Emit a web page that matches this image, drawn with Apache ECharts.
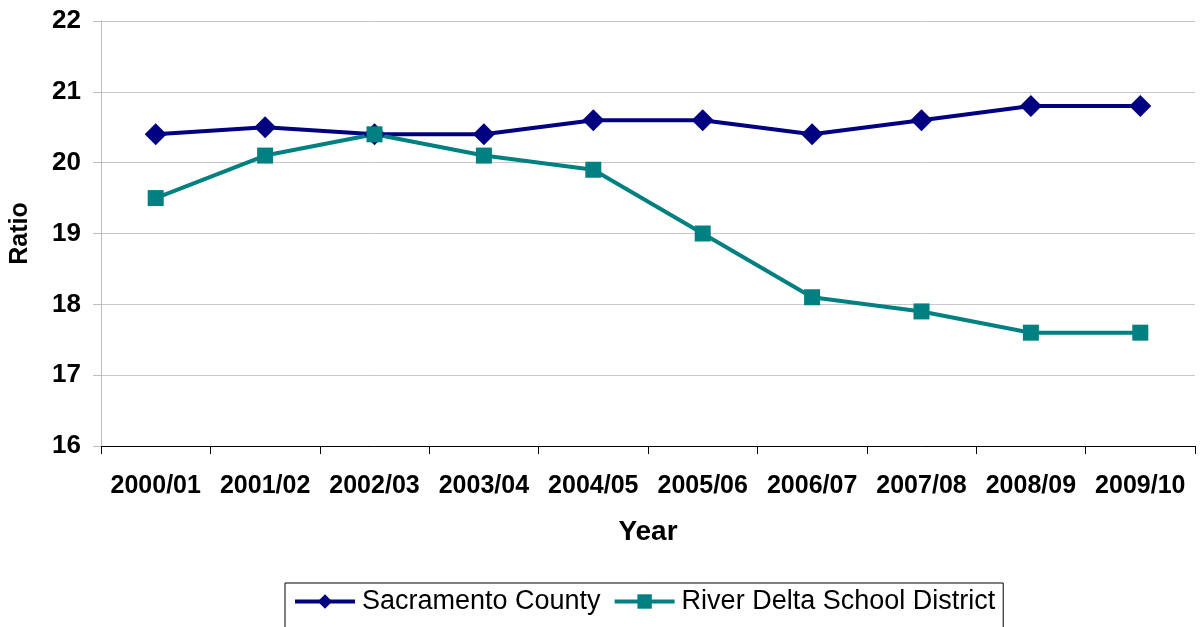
<!DOCTYPE html>
<html>
<head>
<meta charset="utf-8">
<script src="https://cdn.jsdelivr.net/npm/echarts@6/dist/echarts.min.js"></script>
<style>
  html, body { margin: 0; padding: 0; background: #fff; }
  #chart { width: 1200px; height: 627px; }
</style>
</head>
<body>
<div id="chart"></div>
<script>
const years = ['2000/01', '2001/02', '2002/03', '2003/04', '2004/05', '2005/06', '2006/07', '2007/08', '2008/09', '2009/10']
const sacramento = [20.4, 20.5, 20.4, 20.4, 20.6, 20.6, 20.4, 20.6, 20.8, 20.8]
const riverDelta = [19.5, 20.1, 20.4, 20.1, 19.9, 19.0, 18.1, 17.9, 17.6, 17.6]

const chart = echarts.init(document.getElementById('chart'))
const font = 'Liberation Sans, Arial, sans-serif'

chart.setOption({
  animation: false,
  textStyle: { fontFamily: font },
  grid: { left: 101, right: 5, top: 21, bottom: 181, outerBoundsMode: 'none', containLabel: false },
  legend: {
    left: 285,
    top: 583,
    itemGap: 12,
    itemWidth: 60,
    itemHeight: 18,
    padding: [5, 8, 30, 8],
    borderColor: '#000',
    borderWidth: 1,
    lineStyle: { width: 4 },
    textStyle: { fontSize: 27, color: '#000', fontFamily: font, padding: [0, 0, 0, 2] },
    data: ['Sacramento County', 'River Delta School District']
  },
  xAxis: {
    type: 'category',
    data: years,
    boundaryGap: true,
    name: 'Year',
    nameLocation: 'middle',
    nameGap: 72,
    nameTextStyle: { fontSize: 28, fontWeight: 'bold', color: '#000', fontFamily: font },
    axisLine: { lineStyle: { color: '#000', width: 1 } },
    axisTick: { show: true, interval: 0, length: 8, lineStyle: { color: '#000' } },
    axisLabel: { interval: 0, margin: 28, fontSize: 25, fontWeight: 'bold', color: '#000', fontFamily: font }
  },
  yAxis: {
    type: 'value',
    min: 16,
    max: 22,
    interval: 1,
    name: 'Ratio',
    nameLocation: 'middle',
    nameGap: 68,
    nameTextStyle: { fontSize: 25, fontWeight: 'bold', color: '#000', fontFamily: font },
    axisLine: { show: true, lineStyle: { color: '#bdbdbd' } },
    axisTick: { show: true, length: 8, lineStyle: { color: '#bdbdbd' } },
    axisLabel: { margin: 20, fontSize: 26, fontWeight: 'bold', color: '#000', fontFamily: font },
    splitLine: { lineStyle: { color: '#c8c8c8', width: 1 } }
  },
  series: [
    {
      name: 'Sacramento County',
      type: 'line',
      data: sacramento,
      symbol: 'diamond',
      symbolSize: 22,
      color: '#000080',
      lineStyle: { width: 4, color: '#000080' },
      itemStyle: { color: '#000080' }
    },
    {
      name: 'River Delta School District',
      type: 'line',
      data: riverDelta,
      symbol: 'rect',
      symbolSize: 16,
      color: '#008080',
      lineStyle: { width: 4, color: '#008080' },
      itemStyle: { color: '#008080' }
    }
  ]
})
</script>
</body>
</html>
